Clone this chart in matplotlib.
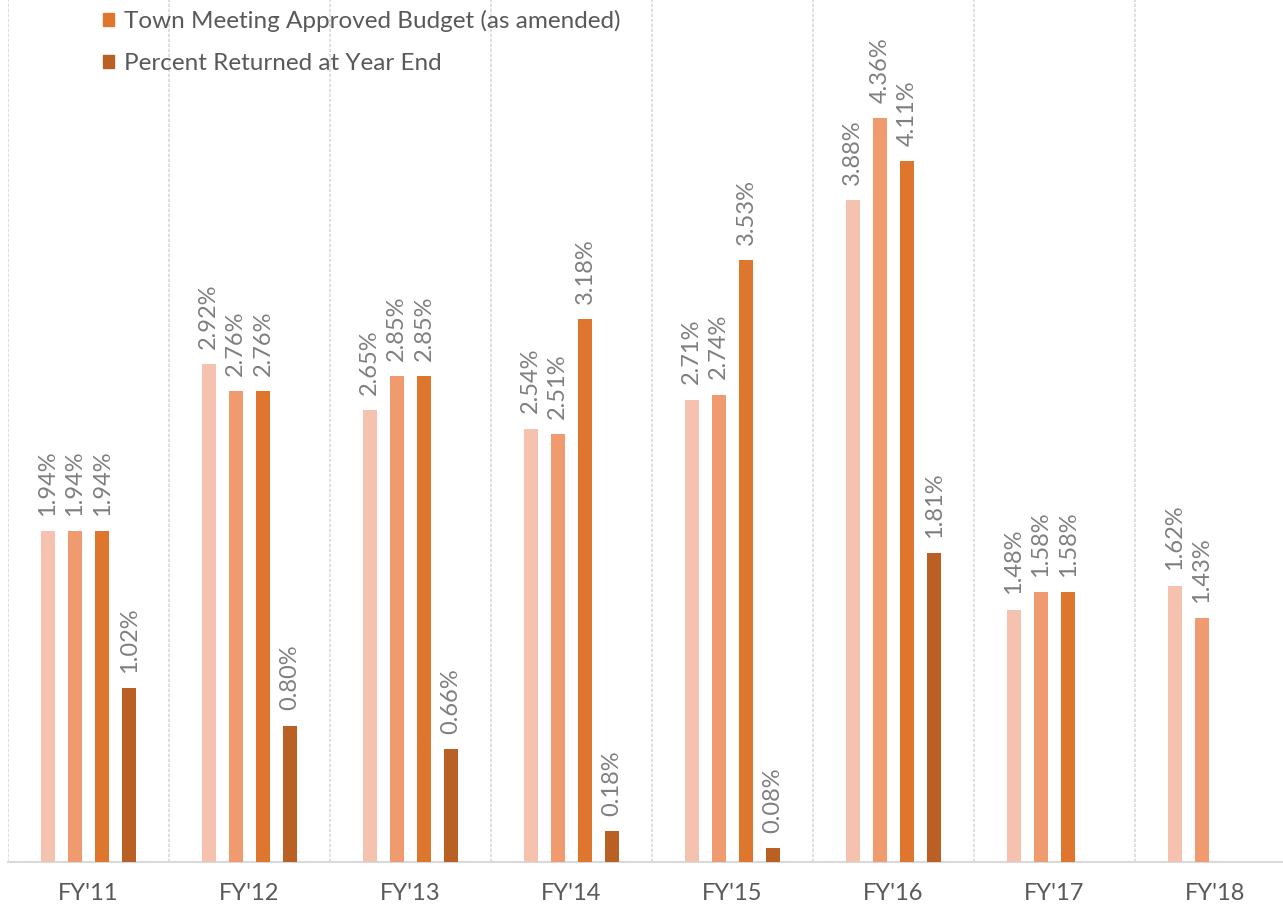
import matplotlib.pyplot as plt
from matplotlib.patches import Patch
import numpy as np

# fiscal years and the four series (percent)
years = ["FY'11", "FY'12", "FY'13", "FY'14", "FY'15", "FY'16", "FY'17", "FY'18"]
proposed = [1.94, 2.92, 2.65, 2.54, 2.71, 3.88, 1.48, 1.62]
recommended = [1.94, 2.76, 2.85, 2.51, 2.74, 4.36, 1.58, 1.43]
approved = [1.94, 2.76, 2.85, 3.18, 3.53, 4.11, 1.58, None]
returned = [1.02, 0.80, 0.66, 0.18, 0.08, 1.81, None, None]

series = [
    (proposed, "#F5C2B0", None),
    (recommended, "#F09A70", None),
    (approved, "#DE762D", "Town Meeting Approved Budget (as amended)"),
    (returned, "#BA6025", "Percent Returned at Year End"),
]

W, H = 1283, 907
fig = plt.figure(figsize=(W / 100, H / 100), dpi=100)
ax = fig.add_axes([8 / W, 45 / H, 8 * 161 / W, 862 / H])

x = np.arange(len(years))
offsets = [-0.253, -0.085, 0.085, 0.253]
bw = 0.088
font = ["Lato", "DejaVu Sans"]

for (vals, color, name), off in zip(series, offsets):
    for xi, v in zip(x, vals):
        if v is None:
            continue
        ax.bar(xi + off, v, width=bw, color=color, zorder=3)
        ax.annotate(f"{v:.2f}%", (xi + off, v), xytext=(0, 11), textcoords="offset points",
                    rotation=90, ha="center", va="bottom", fontsize=17, color="#7f7f7f",
                    family=font)

ax.set_xlim(-0.5, len(years) - 0.5)
ax.set_ylim(0, 862 / 170.6)

# category separators
for b in np.arange(-0.5, len(years) + 0.5, 1):
    ax.axvline(b, color="#d9d9d9", lw=1.2, ls=(0, (2, 1)), zorder=1)

for s in ["top", "right", "left"]:
    ax.spines[s].set_visible(False)
ax.spines["bottom"].set_color("#d9d9d9")
ax.spines["bottom"].set_linewidth(1.5)
ax.set_yticks([])
ax.set_xticks(x)
ax.set_xticklabels(years, fontsize=17, color="#595959", family=font)
ax.tick_params(axis="x", length=0, pad=15)

handles = [Patch(color=c) for _, c, n in series if n]
labels = [n for _, _, n in series if n]
fig.legend(handles, labels, loc="upper left", bbox_to_anchor=(91 / W, 1.0 + 2 / H),
           frameon=False, prop={"family": font, "size": 17.5}, labelcolor="#595959",
           handlelength=0.45, handleheight=0.45, handletextpad=0.4, labelspacing=0.85,
           borderpad=0.0)

fig.savefig("out.png", dpi=100)
